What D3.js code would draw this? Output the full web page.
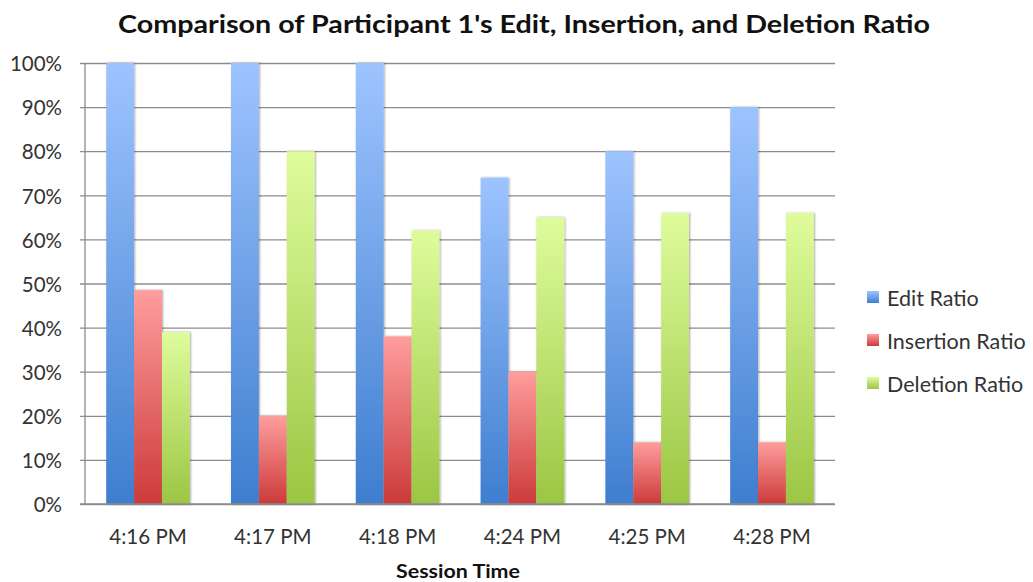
<!DOCTYPE html>
<html><head><meta charset="utf-8">
<script src="https://cdn.jsdelivr.net/npm/d3@7"></script>
<style>body{margin:0;background:#fff}svg{display:block}</style>
</head><body>
<svg id="chart" width="1033" height="582"></svg>
<script>
const categories = ["4:16 PM","4:17 PM","4:18 PM","4:24 PM","4:25 PM","4:28 PM"];
const seriesNames = ["Edit Ratio","Insertion Ratio","Deletion Ratio"];
const editRatio = [100,100,100,74,80,90];
const insertionRatio = [48.5,20,38,30,14,14];
const deletionRatio = [39,80,62,65,66,66];
const yTicks = [0,10,20,30,40,50,60,70,80,90,100];
const colorsTop = ["#9ec4ff","#ff9d9d","#dffc9c"];
const colorsBottom = ["#3e7ecf","#cc3a3a","#9bc643"];

const seriesValues = [editRatio, insertionRatio, deletionRatio];
const FONT = "Lato, 'Open Sans', sans-serif";
const svg = d3.select("#chart");
const margin = {left:85, right:198, top:63, bottom:78};
const W = 1033, H = 582;
const x = d3.scaleBand().domain(categories).range([margin.left, W - margin.right]).paddingInner(0.33).paddingOuter(0.17);
const xs = d3.scaleBand().domain(seriesNames).range([0, x.bandwidth()]);
const y = d3.scaleLinear().domain([0,100]).range([H - margin.bottom, margin.top]);

const defs = svg.append("defs");
seriesNames.forEach((s,i)=>{
  const g = defs.append("linearGradient").attr("id","g"+i).attr("x1",0).attr("y1",0).attr("x2",0).attr("y2",1);
  g.append("stop").attr("offset","0%").attr("stop-color",colorsTop[i]);
  g.append("stop").attr("offset","100%").attr("stop-color",colorsBottom[i]);
});
const f = defs.append("filter").attr("id","sh").attr("x","-20%").attr("y","-5%").attr("width","140%").attr("height","110%");
f.append("feGaussianBlur").attr("in","SourceAlpha").attr("stdDeviation",1.2).attr("result","b");
f.append("feOffset").attr("in","b").attr("dx",0.5).attr("dy",0).attr("result","o");
f.append("feComponentTransfer").attr("in","o").attr("result","o2").append("feFuncA").attr("type","linear").attr("slope",0.35);
const fm = f.append("feMerge"); fm.append("feMergeNode").attr("in","o2"); fm.append("feMergeNode").attr("in","SourceGraphic");

// gridlines
const yAxis = d3.axisLeft(y).tickValues(yTicks).tickSize(-(W - margin.left - margin.right)).tickFormat(d=>d+"%").tickPadding(23);
const ga = svg.append("g").attr("transform",`translate(${margin.left},0)`).call(yAxis);
ga.select(".domain").remove();
ga.selectAll(".tick line").attr("stroke","#8c8c8c").attr("stroke-width",1.3).attr("x1",-5);
ga.selectAll(".tick text").attr("fill","#333").style("font-family",FONT).style("font-size","20.5px").attr("dy","0.38em");
svg.append("line").attr("x1",margin.left).attr("x2",margin.left).attr("y1",y(100)).attr("y2",y(0)).attr("stroke","#8c8c8c").attr("stroke-width",1.3);

// bars
categories.forEach((c,ci)=>{
  const grp = svg.append("g").attr("transform",`translate(${x(c)},0)`);
  grp.selectAll("rect").data(seriesNames).join("rect")
    .attr("x",s=>xs(s)).attr("width",xs.bandwidth())
    .attr("y",(s,i)=>y(seriesValues[i][ci]))
    .attr("height",(s,i)=>y(0)-y(seriesValues[i][ci]))
    .attr("fill",(s,i)=>`url(#g${i})`)
    .attr("filter","url(#sh)");
});
svg.append("line").attr("x1",margin.left-5).attr("x2",W-margin.right).attr("y1",y(0)).attr("y2",y(0)).attr("stroke","#8c8c8c").attr("stroke-width",1.3);

// x axis labels
const xAxis = d3.axisBottom(x).tickSize(0).tickPadding(25);
const gx = svg.append("g").attr("transform",`translate(0,${y(0)})`).call(xAxis);
gx.select(".domain").remove();
gx.selectAll(".tick text").attr("fill","#333").style("font-family",FONT).style("font-size","20.5px");

// title
svg.append("text").attr("x",524).attr("y",33).attr("text-anchor","middle")
  .style("font-family",FONT).style("font-weight","bold").style("font-size","24px").attr("fill","#111")
  .attr("textLength",812).attr("lengthAdjust","spacingAndGlyphs")
  .text("Comparison of Participant 1's Edit, Insertion, and Deletion Ratio");
svg.append("text").attr("x",458).attr("y",578).attr("text-anchor","middle")
  .style("font-family",FONT).style("font-weight","bold").style("font-size","18px").attr("fill","#111")
  .attr("textLength",124).attr("lengthAdjust","spacingAndGlyphs")
  .text("Session Time");

// legend
const lg = svg.append("g");
seriesNames.forEach((s,i)=>{
  const yy = 298 + i*43;
  lg.append("rect").attr("x",867).attr("y",yy-7).attr("width",12).attr("height",12).attr("fill",`url(#g${i})`);
  lg.append("text").attr("x",887).attr("y",yy).attr("dy","0.36em").attr("fill","#333")
    .style("font-family",FONT).style("font-size","21.5px").text(s);
});
</script>
</body></html>
